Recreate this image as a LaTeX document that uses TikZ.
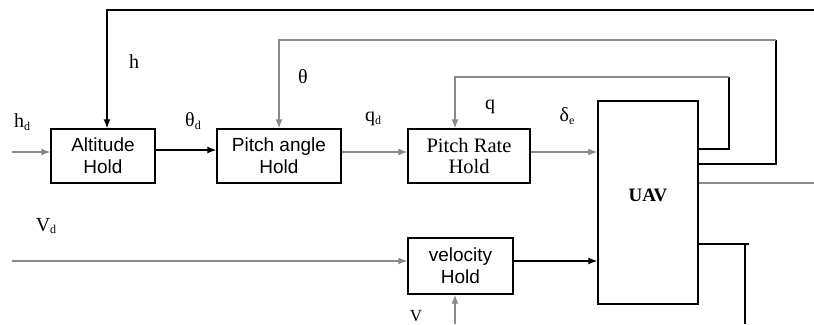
\documentclass[tikz,border=0pt]{standalone}
\usepackage{fontspec}
\setmainfont{Liberation Serif}
\newfontfamily\arialf{Liberation Sans}
\usetikzlibrary{arrows.meta}
\definecolor{lgray}{HTML}{8A8A8A}
\newcommand{\subd}[1]{{\fontsize{12}{12}\selectfont\raisebox{-2.5pt}{#1}}}
\begin{document}
\begin{tikzpicture}[x=1pt,y=-1pt,
  blk/.style={draw, line width=1.4pt, minimum height=54pt, inner sep=0pt, align=center},
  sansbox/.style={blk, font=\arialf\fontsize{19}{22}\selectfont},
  serifbox/.style={blk, font=\fontsize{20.5}{21}\selectfont},
  wire/.style={line width=1.3pt, black},
  gwire/.style={line width=1.3pt, lgray},
  ar/.style={-{Latex[length=9pt,width=7pt]}},
  lab/.style={font=\fontsize{20}{22}\selectfont, inner sep=0pt}]
\useasboundingbox (0,0) rectangle (814,324);
\clip (0,0) rectangle (814,324);

% blocks
\node[sansbox, minimum width=104pt] (alt) at (103,156) {Altitude\\Hold};
\node[sansbox, minimum width=124pt] (pa) at (279,156) {Pitch angle\\Hold};
\node[serifbox, minimum width=122pt] (pr) at (469,156) {Pitch Rate\\Hold};
\node[sansbox, minimum width=105pt, minimum height=56pt] (vel) at (460.5,266) {velocity\\Hold};
\node[blk, minimum width=100pt, minimum height=203pt,
  label={[font=\bfseries\fontsize{19}{20}\selectfont, yshift=7pt]center:UAV}] (uav) at (648,202.5) {};

% free ends
\coordinate (hin) at (12,152);
\coordinate (vin) at (12,261);
\coordinate (vb) at (455,324);
\coordinate (t1) at (814,10);
\coordinate (c2) at (776,40);
\coordinate (c3) at (729,77);
\coordinate (yout) at (814,183);
\coordinate (c5) at (745,324);
\coordinate (c5e) at (749,244);

% forward path
\draw[gwire, ar] (hin) -- (hin -| alt.west);
\draw[wire, ar] ([yshift=6pt]alt.east) -- ([yshift=6pt]pa.west);
\draw[gwire, ar] ([yshift=4pt]pa.east) -- ([yshift=4pt]pr.west);
\draw[gwire, ar] ([yshift=4pt]pr.east) -- ([yshift=4pt]pr.east -| uav.west);
\draw[gwire, ar] (vin) -- (vin -| vel.west);
\draw[wire, ar] ([yshift=5pt]vel.east) -- ([yshift=5pt]vel.east -| uav.west);
\draw[gwire, ar] (vb) -- (vb |- vel.south);

% feedback
\draw[wire, ar] (t1) -| ([xshift=4pt]alt.north);
\draw[wire] ([yshift=38.5pt]uav.east) -| (c2);
\draw[gwire, ar] (c2) -| (pa.north);
\draw[wire] ([yshift=53.5pt]uav.east) -| (c3);
\draw[gwire, ar] (c3) -| ([xshift=-14pt]pr.north);
\draw[gwire] ([yshift=19.5pt]uav.east) -- (yout);
\draw[wire] ([yshift=-41.5pt]uav.east) -- (c5e);
\draw[wire] (c5e -| c5) -- (c5);

% labels
\node[lab] (lhd) at (22,122) {h\subd{d}};
\node[lab] (lh) at (134,62) {h};
\node[lab] (lth) at (303,77) {θ};
\node[lab] (lthd) at (193,121) {θ\subd{d}};
\node[lab] (lqd) at (373,119) {q\subd{d}};
\node[lab] (lq) at (490,107) {q};
\node[lab] (lde) at (567,116) {δ\subd{e}};
\node[lab] (lvd) at (46,226) {V\subd{d}};
\node[lab, anchor=south, font=\fontsize{17}{18}\selectfont] (lv) at (416,322) {V};
\end{tikzpicture}
\end{document}
